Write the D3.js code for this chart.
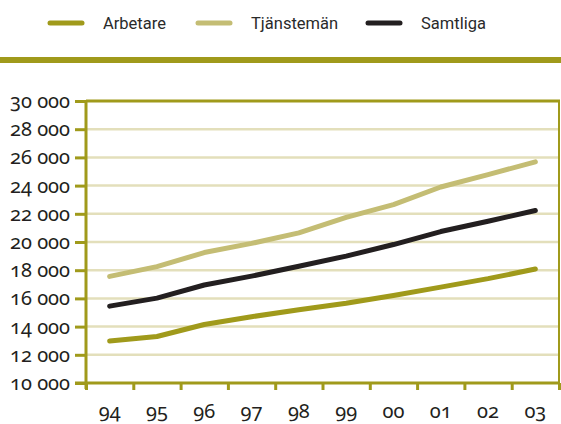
<!DOCTYPE html>
<html>
<head>
<meta charset="utf-8">
<script src="https://cdn.jsdelivr.net/npm/d3@7"></script>
<style>
  body { margin: 0; background: #fff; }
  svg { display: block; }
  .tick-label { font-family: 'Noto Sans', sans-serif; font-variant-numeric: oldstyle-nums; font-feature-settings: 'onum'; fill: #231f20; }
  .legend-label { font-family: Roboto, sans-serif; font-size: 16.5px; fill: #2a2a2a; }
</style>
</head>
<body>
<script>
const years = ['94', '95', '96', '97', '98', '99', '00', '01', '02', '03'];
const arbetare = [12980, 13300, 14150, 14700, 15200, 15650, 16200, 16800, 17400, 18080];
const tjansteman = [17560, 18250, 19250, 19900, 20650, 21750, 22650, 23900, 24780, 25680];
const samtliga = [15450, 16020, 16950, 17580, 18280, 19000, 19820, 20740, 21470, 22230];
const yTicks = [10000, 12000, 14000, 16000, 18000, 20000, 22000, 24000, 26000, 28000, 30000];
const seriesNames = ['Arbetare', 'Tjänstemän', 'Samtliga'];

const w = 561;
const h = 424;
const olive = '#a09a1b';
const colors = ['#a09a1b', '#c4bd74', '#231f20'];
const plotLeft = 86, plotRight = 559, plotTop = 101, plotBottom = 383;

const svg = d3.select('body').append('svg').attr('width', w).attr('height', h);

// legend
const legend = svg.append('g');
const legendX = [50, 198, 368];
seriesNames.forEach((name, i) => {
  legend.append('line')
    .attr('x1', legendX[i]).attr('x2', legendX[i] + 32)
    .attr('y1', 23).attr('y2', 23)
    .attr('stroke', colors[i]).attr('stroke-width', 5).attr('stroke-linecap', 'round');
  legend.append('text').attr('class', 'legend-label')
    .attr('x', legendX[i] + 53).attr('y', 29).text(name);
});

svg.append('rect').attr('x', 0).attr('y', 57).attr('width', w).attr('height', 6).attr('fill', olive);

const xScale = d3.scaleBand().domain(years).range([plotLeft, plotRight]).padding(0);
const yScale = d3.scaleLinear().domain([10000, 30000]).range([plotBottom, plotTop]);

// gridlines
svg.append('g').selectAll('line')
  .data(yTicks.slice(1, -1))
  .enter().append('line')
  .attr('x1', plotLeft).attr('x2', plotRight)
  .attr('y1', d => yScale(d)).attr('y2', d => yScale(d))
  .attr('stroke', '#e3dfbb').attr('stroke-width', 2.5);

// y axis
const yAxis = d3.axisLeft(yScale).tickValues(yTicks).tickSize(11).tickSizeOuter(0)
  .tickFormat(d => d3.format(',')(d).replace(',', ' '));
const gy = svg.append('g').attr('transform', 'translate(' + plotLeft + ',0)').call(yAxis);
gy.select('.domain').remove();
gy.selectAll('.tick line').attr('stroke', olive).attr('stroke-width', 3);
gy.selectAll('.tick text').attr('class', 'tick-label').attr('x', -16).style('font-size', '20px');
gy.append('line').attr('x1', 0).attr('x2', 0).attr('y1', plotTop).attr('y2', plotBottom + 6)
  .attr('stroke', olive).attr('stroke-width', 3);

// frame top and right
svg.append('line').attr('x1', plotLeft).attr('x2', plotRight + 1).attr('y1', plotTop).attr('y2', plotTop)
  .attr('stroke', olive).attr('stroke-width', 3);
svg.append('line').attr('x1', plotRight).attr('x2', plotRight).attr('y1', plotTop).attr('y2', plotBottom + 6)
  .attr('stroke', olive).attr('stroke-width', 2);

// x axis ticks at band boundaries
const boundary = d3.scaleLinear().domain([0, years.length]).range([plotLeft, plotRight]);
const gxTicks = svg.append('g').attr('transform', 'translate(0,' + plotBottom + ')')
  .call(d3.axisBottom(boundary).ticks(years.length).tickSize(7).tickFormat(''));
gxTicks.select('.domain').remove();
gxTicks.selectAll('.tick line').attr('stroke', olive).attr('stroke-width', 3);
svg.append('line').attr('x1', plotLeft - 11).attr('x2', plotRight + 1).attr('y1', plotBottom).attr('y2', plotBottom)
  .attr('stroke', olive).attr('stroke-width', 3);

const gx = svg.append('g').attr('transform', 'translate(0,' + plotBottom + ')')
  .call(d3.axisBottom(xScale).tickSize(0));
gx.select('.domain').remove();
gx.selectAll('.tick text').attr('class', 'tick-label').attr('y', 21).style('font-size', '20px');

// lines
const line = d3.line()
  .x((d, i) => xScale(years[i]) + xScale.bandwidth() / 2)
  .y(d => yScale(d));
[arbetare, tjansteman, samtliga].forEach((s, i) => {
  svg.append('path').datum(s)
    .attr('d', line)
    .attr('fill', 'none')
    .attr('stroke', colors[i])
    .attr('stroke-width', 5)
    .attr('stroke-linecap', 'round')
    .attr('stroke-linejoin', 'round');
});
</script>
</body>
</html>
